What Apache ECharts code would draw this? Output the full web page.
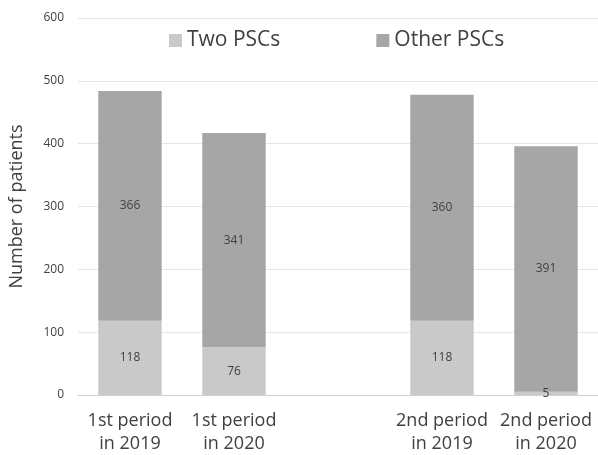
<!DOCTYPE html>
<html>
<head>
<meta charset="utf-8">
<script src="https://cdn.jsdelivr.net/npm/echarts@6/dist/echarts.min.js"></script>
<style>
  html, body { margin: 0; padding: 0; background: #fff; }
  #chart { width: 598px; height: 455px; }
</style>
</head>
<body>
<div id="chart"></div>
<script>
// Patients per period, split by number of PSCs
const categories = ['1st period\nin 2019', '1st period\nin 2020', '', '2nd period\nin 2019', '2nd period\nin 2020'];
const twoPSCs = [118, 76, null, 118, 5];
const otherPSCs = [366, 341, null, 360, 391];
const yTicks = [0, 100, 200, 300, 400, 500, 600];

const chart = echarts.init(document.getElementById('chart'));

const labelStyle = {
  show: true,
  position: 'inside',
  color: '#404040',
  fontSize: 12,
  fontFamily: '"Open Sans", "Noto Sans", sans-serif'
};

chart.setOption({
  animation: false,
  textStyle: { fontFamily: '"Open Sans", "Noto Sans", sans-serif' },
  legend: {
    top: 25,
    left: 164,
    itemGap: 96,
    itemWidth: 13,
    itemHeight: 13,
    icon: 'rect',
    textStyle: { fontSize: 21, color: '#404040' },
    data: ['Two PSCs', 'Other PSCs']
  },
  grid: { left: 78, top: 18, width: 524, height: 378, containLabel: false },
  xAxis: {
    type: 'category',
    data: categories,
    axisLine: { lineStyle: { color: '#d0d0d0', width: 1 } },
    axisTick: { show: false },
    axisLabel: {
      fontSize: 18,
      color: '#404040',
      lineHeight: 23,
      margin: 14,
      interval: 0
    }
  },
  yAxis: {
    type: 'value',
    min: yTicks[0],
    max: yTicks[yTicks.length - 1],
    interval: 100,
    name: 'Number of patients',
    nameLocation: 'middle',
    nameGap: 52,
    nameTextStyle: { fontSize: 18, color: '#404040' },
    axisLine: { show: false },
    axisTick: { show: false },
    axisLabel: { fontSize: 12, color: '#404040', margin: 14 },
    splitLine: { lineStyle: { color: '#e6e6e6', width: 1 } }
  },
  series: [
    {
      name: 'Two PSCs',
      type: 'bar',
      stack: 'total',
      barCategoryGap: '39%',
      data: twoPSCs,
      itemStyle: { color: '#c9c9c9' },
      label: labelStyle
    },
    {
      name: 'Other PSCs',
      type: 'bar',
      stack: 'total',
      barCategoryGap: '39%',
      data: otherPSCs,
      itemStyle: { color: '#a6a6a6' },
      label: labelStyle
    }
  ]
});
</script>
</body>
</html>
